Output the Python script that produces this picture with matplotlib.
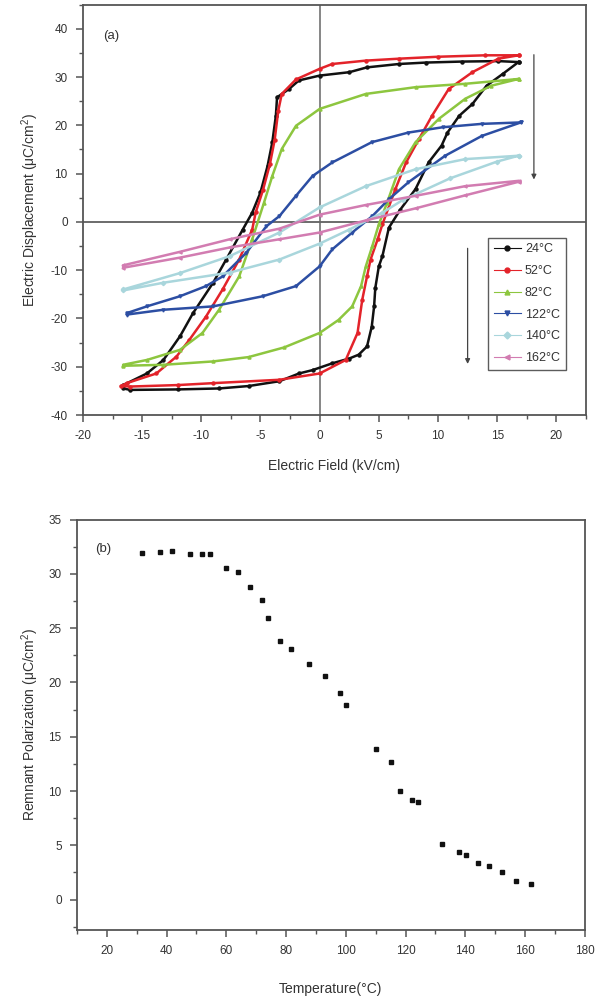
import matplotlib
matplotlib.use('Agg')
import matplotlib.pyplot as plt
from matplotlib.ticker import MultipleLocator

plt.rcParams['font.family'] = ['Liberation Sans', 'DejaVu Sans']
plt.rcParams['mathtext.fontset'] = 'custom'
plt.rcParams['mathtext.rm'] = 'Liberation Sans'
plt.rcParams['axes.unicode_minus'] = False

ink = '#333333'

# ---- (a) hysteresis loops: upper branch (+Emax -> -Emax) then lower branch back ----
labels = ['24\u00b0C', '52\u00b0C', '82\u00b0C', '122\u00b0C', '140\u00b0C', '162\u00b0C']
colors = ['#111111', '#e3232a', '#8dc63f', '#2c4ea3', '#a9d6dc', '#d27cb1']
markers = ['o', 'o', '^', 'v', 'D', '<']

e24 = [16.8, 15.1, 12, 9, 6.7, 4, 2.5, 0, -1.75, -2.6, -3.6, -3.7, -4.0, -4.4, -5.0, -5.7, -6.5, -7.9, -9.0, -10.7, -11.8, -13.2, -14.6, -16.6,
       -16.6, -16, -12, -8.5, -6, -3.4, -1.75, -0.6, 1.06, 2.5, 3.3, 4.0, 4.4, 4.6, 4.7, 5.0, 5.3, 5.85, 6.8, 8.1, 9.2, 10.3, 10.8, 11.8, 12.9, 14.1, 15.5, 16.8]
d24 = [33.1, 33.3, 33.2, 33, 32.7, 32, 31, 30.3, 29.3, 27.5, 25.8, 22, 16.5, 11.6, 6.1, 1.9, -1.6, -7.8, -12.6, -18.9, -23.7, -28.6, -31.4, -33.8,
       -34.5, -34.8, -34.7, -34.5, -34, -33, -31.4, -30.7, -29.3, -28.3, -27.5, -25.8, -21.7, -17.5, -13.7, -9.2, -7.1, -1.2, 2.5, 6.8, 12.3, 15.8, 18.5, 22, 24.4, 28.2, 30.7, 33.1]

e52 = [16.8, 14, 10, 6.7, 3.9, 1.06, 0, -2.0, -3.2, -3.5, -3.8, -4.2, -4.8, -5.4, -5.7, -6.8, -8.2, -9.6, -11.0, -12.1, -13.8, -16.3, -16.8,
       -16.0, -12, -9, -3.4, 0, 2.2, 3.2, 3.6, 4.0, 4.3, 4.9, 5.3, 6.4, 7.3, 8.4, 9.5, 10.9, 12.9, 15.1, 16.8]
d52 = [34.5, 34.5, 34.2, 33.8, 33.4, 32.7, 31.7, 29.5, 26.5, 23, 17, 12, 6.5, 2, -1.6, -7.8, -14, -19.6, -24.4, -27.9, -31.4, -33.4, -34,
       -34.1, -33.8, -33.4, -32.7, -31.4, -28.6, -23.0, -16.1, -11.3, -7.8, -3.6, -0.5, 6.8, 12.3, 17.2, 22, 27.5, 31, 33.8, 34.5]

e82 = [16.8, 12.3, 8.1, 3.9, 0, -2.0, -3.2, -4.0, -4.7, -5.7, -6.8, -8.5, -9.9, -11.8, -14.6, -16.6,
       -16.6, -13.2, -9.0, -6.0, -3.0, 0, 1.6, 2.75, 3.5, 3.9, 4.45, 5.0, 5.7, 6.7, 8.1, 10.1, 12.3, 14.5, 16.8]
d82 = [29.6, 28.6, 27.9, 26.5, 23.4, 19.9, 15.1, 9.5, 4.0, -3.6, -11.3, -18.2, -23, -26.5, -28.6, -29.6,
       -29.8, -29.6, -28.9, -28.0, -26.0, -23, -20.3, -17.5, -13.3, -9.2, -5, -0.5, 4, 10.9, 16.5, 21.4, 25.5, 28.2, 29.6]

e122 = [17, 13.7, 10.4, 7.5, 4.4, 1.06, -0.6, -2.0, -3.4, -4.5, -6.2, -8.2, -9.6, -11.8, -14.6, -16.3,
        -16.3, -13.2, -9, -4.8, -2.0, 0, 1.06, 2.75, 4.45, 5.85, 7.5, 10.6, 13.7, 17]
d122 = [20.6, 20.3, 19.6, 18.5, 16.5, 12.3, 9.5, 5.4, 1.2, -0.9, -6.4, -11.3, -13.3, -15.4, -17.5, -18.9,
        -19.2, -18.2, -17.5, -15.4, -13.3, -9.2, -5.7, -2.2, 1.2, 4.7, 8.2, 13.7, 17.8, 20.6]

e140 = [16.8, 12.3, 8.1, 3.9, 0, -3.4, -7.6, -11.8, -16.6,
        -16.6, -13.2, -7.6, -3.4, 0, 2.5, 5.3, 7, 11, 15, 16.8]
d140 = [13.7, 13, 10.9, 7.4, 3.0, -2.2, -7.1, -10.6, -14,
        -14.2, -12.6, -10.5, -7.8, -4.5, -1.6, 1.9, 4.5, 9, 12.5, 13.7]

e162 = [16.8, 12.3, 8.1, 3.9, 0, -3.4, -7.6, -11.8, -16.6,
        -16.6, -11.8, -7.6, -3.4, 0, 3.9, 8.1, 12.3, 16.8]
d162 = [8.5, 7.4, 5.4, 3.5, 1.5, -1.4, -3.6, -6.2, -9,
        -9.5, -7.4, -5.3, -3.6, -2.2, 0.3, 2.8, 5.5, 8.3]

loops_e = [e24, e52, e82, e122, e140, e162]
loops_d = [d24, d52, d82, d122, d140, d162]

# ---- (b) remnant polarization vs temperature ----
temp_b = [31.7, 37.7, 41.8, 48.0, 51.9, 54.7, 60.0, 64.0, 68.1, 71.8, 74.0, 77.9, 81.8, 87.8, 93.0, 97.9, 100,
          110, 115.1, 118.1, 122, 124.2, 132.1, 138, 140.2, 144.2, 148.1, 152.2, 157, 162]
pr_b = [31.9, 32.0, 32.1, 31.8, 31.8, 31.8, 30.5, 30.2, 28.8, 27.6, 25.9, 23.8, 23.1, 21.7, 20.6, 19.0, 17.9,
        13.9, 12.7, 10.0, 9.2, 9.0, 5.1, 4.4, 4.1, 3.4, 3.1, 2.5, 1.7, 1.4]

fig = plt.figure(figsize=(6.01, 10.01), dpi=100)
ax1 = fig.add_axes([0.138, 0.5854, 0.837, 0.41])
ax2 = fig.add_axes([0.128, 0.0709, 0.845, 0.41])


def style(ax):
    for s in ax.spines.values():
        s.set_color('#555555')
        s.set_linewidth(1.3)
    ax.tick_params(which='both', direction='out', colors='#555555', labelcolor=ink,
                   labelsize=8.5, top=False, right=False, pad=6)
    ax.tick_params(which='major', length=5, width=1.1)
    ax.tick_params(which='minor', length=3, width=1.0)


# panel (a)
ax1.axhline(0, color='#444444', lw=1.1, zorder=1)
ax1.axvline(0, color='#666666', lw=1.1, zorder=1)
for e, d, lab, c, m in zip(loops_e, loops_d, labels, colors, markers):
    ax1.plot(e, d, color=c, lw=1.8, marker=m, ms=2.2, mec=c, mfc=c, label=lab, zorder=2)

ax1.annotate('', xy=(18.1, 8.2), xytext=(18.1, 35.2),
             arrowprops=dict(arrowstyle='-|>', color='#444444', lw=0.9, mutation_scale=7))
ax1.annotate('', xy=(12.5, -30), xytext=(12.5, -4.9),
             arrowprops=dict(arrowstyle='-|>', color='#444444', lw=0.9, mutation_scale=7))
ax1.text(-18.3, 38.5, '(a)', fontsize=9.5, color=ink, va='center')

ax1.set_xlim(-20, 22.5)
ax1.set_ylim(-40, 45)
ax1.xaxis.set_major_locator(MultipleLocator(5))
ax1.xaxis.set_minor_locator(MultipleLocator(2.5))
ax1.yaxis.set_major_locator(MultipleLocator(10))
ax1.yaxis.set_minor_locator(MultipleLocator(5))
style(ax1)
ax1.set_xlabel('Electric Field (kV/cm)', fontsize=10, color=ink, labelpad=12)
ax1.set_ylabel('Electric Displacement (\u03bcC/cm$^2$)', fontsize=10, color=ink, labelpad=7)

leg = ax1.legend(loc='upper left', bbox_to_anchor=(0.793, 0.447), fontsize=9, frameon=True,
                 fancybox=False, edgecolor='#333333', handlelength=2.2, handletextpad=0.3,
                 labelspacing=0.78, borderpad=0.45, markerscale=1.6)
leg.get_frame().set_linewidth(1.0)
for t in leg.get_texts():
    t.set_color(ink)
for h in leg.get_lines():
    h.set_linewidth(0.8)

# panel (b)
ax2.plot(temp_b, pr_b, ls='none', marker='s', ms=3.0, color='#111111')
ax2.text(16, 32.3, '(b)', fontsize=9.5, color=ink, va='center')
ax2.set_xlim(10, 180)
ax2.set_ylim(-2.8, 35)
ax2.xaxis.set_major_locator(MultipleLocator(20))
ax2.xaxis.set_minor_locator(MultipleLocator(10))
ax2.yaxis.set_major_locator(MultipleLocator(5))
ax2.yaxis.set_minor_locator(MultipleLocator(2.5))
style(ax2)
ax2.set_xticks([20, 40, 60, 80, 100, 120, 140, 160, 180])
ax2.set_xlabel('Temperature(\u00b0C)', fontsize=10, color=ink, labelpad=18)
ax2.set_ylabel('Remnant Polarization (\u03bcC/cm$^2$)', fontsize=10, color=ink, labelpad=5)

fig.savefig('out.png', dpi=100)
